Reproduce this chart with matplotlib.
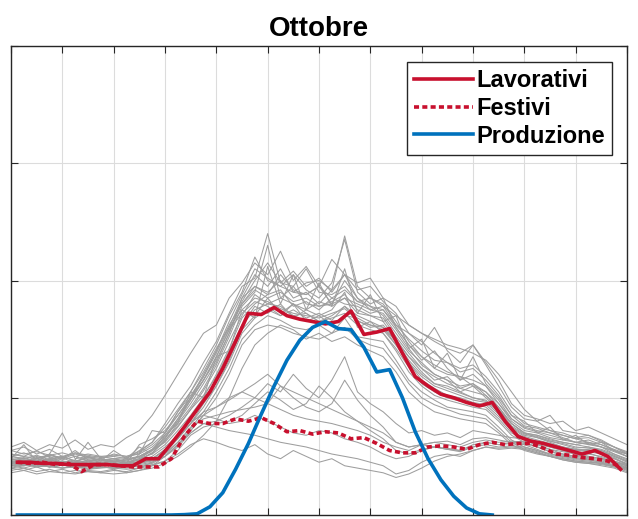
import numpy as np
import matplotlib
matplotlib.use('Agg')
from matplotlib import pyplot as plt

plt.rcParams['font.family'] = ['Liberation Sans', 'DejaVu Sans']

# hours of the day for the half-hour averages and for the single days
hours_mean = np.arange(0.25, 24, 0.5)
hours_day = np.arange(0, 24.01, 0.5)

lavorativi = [0.45, 0.45, 0.44, 0.44, 0.43, 0.43, 0.43, 0.43, 0.42, 0.42, 0.48, 0.48,
              0.61, 0.75, 0.90, 1.05, 1.25, 1.48, 1.72, 1.71, 1.77, 1.70, 1.67, 1.65,
              1.63, 1.65, 1.74, 1.54, 1.56, 1.59, 1.38, 1.18, 1.10, 1.03, 1.00, 0.96,
              0.93, 0.96, 0.80, 0.67, 0.63, 0.61, 0.58, 0.55, 0.52, 0.55, 0.50, 0.39]

festivi = [0.45, 0.44, 0.45, 0.43, 0.44, 0.37, 0.43, 0.43, 0.42, 0.41, 0.41, 0.41,
           0.48, 0.67, 0.80, 0.78, 0.78, 0.82, 0.80, 0.83, 0.78, 0.71, 0.72, 0.69,
           0.71, 0.70, 0.65, 0.66, 0.61, 0.55, 0.53, 0.53, 0.58, 0.59, 0.58, 0.56,
           0.60, 0.62, 0.60, 0.61, 0.61, 0.57, 0.52, 0.51, 0.49, 0.48, 0.46, 0.41]

nan = np.nan
produzione = [0, 0, 0, 0, 0, 0, 0, 0, 0, 0, 0, 0,
              0, 0.003, 0.01, 0.07, 0.19, 0.39, 0.61, 0.86, 1.10, 1.32, 1.49, 1.60,
              1.65, 1.59, 1.58, 1.43, 1.22, 1.24, 1.00, 0.71, 0.48, 0.30, 0.16, 0.06,
              0.01, 0.0, nan, nan, nan, nan, nan, nan, nan, nan, nan, nan]

# single working days
giorni_lav = [
    [0.52,0.50,0.55,0.49,0.47,0.50,0.46,0.48,0.45,0.47,0.50,0.56,0.66,0.80,0.95,1.12,1.30,1.55,1.85,2.05,1.95,2.10,1.90,1.88,1.95,1.80,2.00,1.85,1.78,1.70,1.55,1.40,1.30,1.20,1.15,1.05,1.10,1.00,0.90,0.78,0.70,0.68,0.64,0.62,0.60,0.58,0.56,0.52,0.48],
    [0.42,0.44,0.41,0.43,0.40,0.42,0.39,0.41,0.40,0.42,0.44,0.48,0.55,0.65,0.78,0.92,1.10,1.32,1.58,1.70,1.85,1.72,1.80,1.65,1.70,1.75,1.90,1.60,1.65,1.55,1.40,1.22,1.10,1.02,0.98,0.95,0.92,0.90,0.80,0.68,0.62,0.58,0.56,0.52,0.50,0.53,0.49,0.45,0.40],
    [0.55,0.58,0.52,0.56,0.50,0.53,0.51,0.49,0.50,0.48,0.55,0.62,0.75,0.90,1.05,1.25,1.45,1.70,1.90,2.20,2.00,1.95,2.05,1.92,1.85,1.98,2.35,1.90,1.80,1.85,1.60,1.45,1.35,1.25,1.20,1.18,1.10,1.05,0.95,0.82,0.75,0.72,0.70,0.66,0.62,0.64,0.60,0.55,0.50],
    [0.38,0.40,0.37,0.39,0.36,0.38,0.37,0.36,0.38,0.37,0.40,0.45,0.52,0.62,0.74,0.88,1.05,1.25,1.50,1.62,1.70,1.66,1.60,1.58,1.62,1.55,1.68,1.52,1.50,1.48,1.32,1.15,1.05,0.98,0.92,0.90,0.88,0.85,0.75,0.64,0.58,0.55,0.52,0.50,0.48,0.47,0.45,0.42,0.38],
    [0.48,0.45,0.50,0.46,0.49,0.44,0.47,0.45,0.46,0.44,0.47,0.53,0.63,0.78,0.92,1.08,1.28,1.52,1.78,1.90,2.30,1.85,1.80,1.75,1.82,1.78,1.85,1.72,1.70,1.65,1.50,1.35,1.22,1.12,1.10,1.05,1.00,0.98,0.88,0.75,0.68,0.66,0.62,0.58,0.56,0.55,0.54,0.50,0.45],
    [0.45,0.47,0.44,0.46,0.43,0.45,0.44,0.43,0.42,0.44,0.60,0.65,0.72,0.85,1.00,1.15,1.35,1.58,1.72,1.82,1.78,1.70,1.75,1.68,1.72,1.66,1.78,1.65,1.62,1.58,1.45,1.30,1.18,1.10,1.06,1.02,0.98,0.96,0.86,0.72,0.66,0.63,0.60,0.58,0.55,0.56,0.52,0.48,0.44],
    [0.50,0.48,0.46,0.52,0.48,0.55,0.47,0.46,0.48,0.45,0.48,0.52,0.60,0.72,0.85,1.00,1.20,1.42,1.68,1.80,1.88,1.92,1.78,1.82,1.75,1.85,1.80,1.78,1.72,1.75,1.60,1.45,1.32,1.40,1.25,1.15,1.20,1.10,0.95,0.80,0.72,0.70,0.66,0.64,0.62,0.60,0.58,0.54,0.50],
    [0.40,0.42,0.45,0.41,0.43,0.40,0.42,0.44,0.41,0.43,0.46,0.50,0.58,0.68,0.82,0.98,1.15,1.38,1.62,1.75,1.80,1.78,1.70,1.72,1.65,1.68,1.72,1.62,1.58,1.55,1.42,1.26,1.12,1.05,1.00,0.97,0.95,0.92,0.82,0.70,0.64,0.60,0.58,0.55,0.53,0.52,0.50,0.46,0.42],
    [0.46,0.44,0.48,0.50,0.45,0.47,0.62,0.48,0.46,0.47,0.49,0.55,0.65,0.82,1.00,1.20,1.40,1.62,1.80,1.95,1.90,2.00,1.85,1.90,1.80,1.92,2.05,1.85,1.75,1.72,1.58,1.42,1.28,1.20,1.15,1.10,1.12,1.02,0.92,0.78,0.70,0.68,0.65,0.62,0.60,0.62,0.58,0.52,0.47],
    [0.44,0.43,0.42,0.44,0.42,0.43,0.41,0.42,0.43,0.41,0.52,0.72,0.70,0.88,1.02,1.18,1.38,1.60,1.75,1.85,1.82,1.76,1.72,1.70,1.68,1.72,1.76,1.66,1.60,1.62,1.48,1.32,1.20,1.12,1.08,1.04,1.00,0.97,0.88,0.74,0.67,0.64,0.61,0.58,0.56,0.55,0.53,0.49,0.43],
    [0.55,0.52,0.54,0.51,0.53,0.50,0.52,0.50,0.51,0.50,0.52,0.58,0.68,0.82,0.98,1.15,1.32,1.55,1.82,2.00,2.15,1.98,1.95,2.10,1.90,1.88,1.95,1.82,1.85,1.78,1.62,1.50,1.40,1.32,1.30,1.22,1.25,1.15,1.02,0.85,0.76,0.74,0.70,0.68,0.65,0.66,0.62,0.58,0.54],
    [0.36,0.38,0.35,0.37,0.36,0.35,0.37,0.36,0.35,0.36,0.38,0.42,0.50,0.60,0.72,0.85,1.00,1.20,1.45,1.58,1.62,1.60,1.55,1.52,1.50,1.55,1.60,1.50,1.45,1.42,1.28,1.12,1.00,0.94,0.90,0.86,0.84,0.82,0.72,0.62,0.56,0.53,0.50,0.48,0.46,0.45,0.44,0.41,0.37],
    [0.47,0.49,0.46,0.48,0.50,0.46,0.48,0.47,0.45,0.48,0.50,0.55,0.62,0.75,0.90,1.06,1.25,1.48,1.70,1.88,1.80,1.85,1.95,1.80,1.78,1.82,1.88,1.75,1.70,1.68,1.52,1.38,1.25,1.18,1.12,1.08,1.05,1.02,0.90,0.76,0.69,0.67,0.63,0.61,0.58,0.57,0.55,0.51,0.46],
    [0.50,0.53,0.49,0.51,0.48,0.52,0.49,0.50,0.48,0.49,0.53,0.60,0.70,0.85,1.00,1.18,1.40,1.65,1.88,2.10,2.02,1.95,1.90,1.98,2.00,1.92,2.38,1.95,1.85,1.80,1.65,1.48,1.35,1.28,1.22,1.18,1.15,1.10,0.98,0.82,0.74,0.71,0.68,0.65,0.62,0.61,0.58,0.55,0.50],
    [0.58,0.62,0.55,0.60,0.57,0.64,0.56,0.60,0.58,0.66,0.72,0.85,1.02,1.20,1.38,1.55,1.62,1.85,1.98,2.15,2.05,2.25,2.00,2.12,1.95,2.18,2.05,1.98,2.02,1.85,1.78,1.62,1.55,1.48,1.42,1.38,1.45,1.30,1.15,0.95,0.85,0.82,0.78,0.80,0.72,0.75,0.70,0.65,0.60],
    [0.40,0.38,0.41,0.37,0.39,0.36,0.38,0.37,0.39,0.36,0.38,0.40,0.44,0.50,0.58,0.68,0.80,1.00,1.25,1.45,1.55,1.62,1.58,1.50,1.55,1.48,1.52,1.45,1.40,1.35,1.22,1.05,0.95,0.88,0.85,0.82,0.80,0.78,0.70,0.60,0.55,0.52,0.50,0.47,0.45,0.44,0.42,0.40,0.36],
    [0.48,0.60,0.45,0.52,0.70,0.48,0.50,0.46,0.55,0.48,0.58,0.52,0.68,0.78,1.05,1.00,1.35,1.40,1.75,1.68,2.12,1.80,2.05,1.75,1.98,1.78,2.10,1.72,1.88,1.65,1.70,1.42,1.50,1.25,1.38,1.15,1.35,1.12,1.00,0.85,0.80,0.70,0.75,0.64,0.68,0.60,0.62,0.55,0.52],
    [0.50,0.48,0.51,0.47,0.50,0.46,0.49,0.47,0.48,0.46,0.50,0.56,0.66,0.80,0.98,1.15,1.35,1.58,1.80,1.92,1.85,1.90,1.82,1.85,1.78,1.80,1.85,1.80,1.75,1.78,1.70,1.62,1.55,1.50,1.45,1.42,1.38,1.32,1.20,1.05,0.90,0.80,0.72,0.68,0.65,0.62,0.60,0.56,0.52],
    [0.44,0.46,0.43,0.47,0.45,0.42,0.46,0.44,0.43,0.45,0.47,0.53,0.64,0.76,0.90,1.02,1.18,1.40,1.62,1.78,1.72,1.80,1.68,1.75,1.70,1.62,1.70,1.68,1.62,1.60,1.48,1.35,1.25,1.15,1.18,1.08,1.12,1.05,0.92,0.78,0.70,0.66,0.63,0.60,0.57,0.58,0.55,0.50,0.46],
    [0.52,0.50,0.48,0.51,0.49,0.53,0.50,0.48,0.52,0.50,0.54,0.62,0.78,0.95,1.10,1.30,1.48,1.72,1.95,2.02,2.40,1.98,2.08,1.95,2.02,1.90,2.05,1.92,1.95,1.82,1.72,1.55,1.48,1.38,1.30,1.25,1.28,1.18,1.05,0.88,0.78,0.75,0.72,0.70,0.66,0.68,0.63,0.58,0.53],
    [0.42,0.40,0.43,0.41,0.44,0.40,0.42,0.41,0.40,0.42,0.45,0.48,0.56,0.66,0.78,0.95,1.10,1.30,1.55,1.68,1.75,1.70,1.80,1.72,1.65,1.70,1.78,1.70,1.65,1.60,1.45,1.30,1.15,1.08,1.02,1.00,0.96,0.94,0.84,0.72,0.65,0.62,0.60,0.57,0.55,0.54,0.52,0.48,0.43],
    [0.46,0.45,0.48,0.44,0.46,0.45,0.50,0.44,0.47,0.45,0.48,0.55,0.70,0.88,1.05,1.22,1.42,1.60,1.85,1.95,1.88,2.05,1.92,1.88,1.95,1.85,1.92,1.82,1.78,1.75,1.62,1.55,1.45,1.60,1.40,1.30,1.45,1.28,1.10,0.92,0.82,0.80,0.85,0.72,0.70,0.68,0.64,0.58,0.52],
]

# single holidays
giorni_fest = [
    [0.46,0.45,0.47,0.44,0.46,0.43,0.45,0.44,0.43,0.44,0.45,0.47,0.52,0.62,0.75,0.82,0.85,0.88,0.90,0.92,0.95,0.90,0.85,0.82,0.80,0.78,0.75,0.72,0.68,0.62,0.58,0.55,0.60,0.62,0.63,0.60,0.65,0.66,0.64,0.62,0.63,0.60,0.56,0.54,0.52,0.50,0.48,0.46,0.43],
    [0.44,0.42,0.43,0.41,0.40,0.42,0.40,0.41,0.40,0.39,0.40,0.42,0.46,0.55,0.68,0.75,0.78,0.80,0.85,0.95,1.05,0.98,0.90,0.95,1.10,1.00,0.88,0.80,0.72,0.65,0.55,0.52,0.56,0.58,0.57,0.55,0.60,0.62,0.60,0.61,0.60,0.56,0.52,0.50,0.48,0.47,0.45,0.43,0.40],
    [0.48,0.47,0.46,0.48,0.45,0.46,0.44,0.45,0.46,0.44,0.45,0.48,0.55,0.68,0.80,0.85,0.82,0.78,0.80,0.85,0.80,0.75,0.70,0.68,0.72,0.70,0.65,0.62,0.58,0.52,0.48,0.50,0.55,0.58,0.56,0.54,0.58,0.62,0.60,0.62,0.61,0.58,0.54,0.52,0.50,0.49,0.47,0.45,0.42],
    [0.42,0.43,0.41,0.42,0.40,0.41,0.39,0.40,0.41,0.40,0.42,0.44,0.50,0.60,0.70,0.78,0.80,0.85,0.92,1.00,0.95,1.10,1.00,0.92,0.88,0.95,1.15,0.98,0.85,0.75,0.62,0.58,0.60,0.62,0.60,0.58,0.62,0.64,0.62,0.63,0.62,0.58,0.54,0.51,0.49,0.48,0.46,0.44,0.41],
    [0.45,0.44,0.46,0.43,0.45,0.44,0.43,0.42,0.44,0.43,0.44,0.46,0.50,0.58,0.70,0.78,0.75,0.72,0.70,0.68,0.65,0.62,0.60,0.58,0.55,0.52,0.50,0.48,0.45,0.42,0.35,0.38,0.45,0.50,0.52,0.50,0.55,0.58,0.57,0.58,0.57,0.54,0.50,0.48,0.46,0.45,0.44,0.42,0.40],
    [0.47,0.46,0.45,0.47,0.44,0.45,0.46,0.44,0.45,0.43,0.44,0.47,0.53,0.65,0.78,0.88,0.92,1.00,1.05,1.12,1.20,1.10,1.05,1.00,0.95,0.90,0.85,0.80,0.75,0.70,0.62,0.58,0.60,0.58,0.56,0.55,0.58,0.60,0.58,0.59,0.58,0.55,0.51,0.49,0.47,0.46,0.44,0.42,0.39],
    [0.44,0.46,0.43,0.45,0.42,0.44,0.43,0.45,0.42,0.44,0.43,0.45,0.50,0.60,0.72,0.85,0.92,0.98,1.05,1.00,1.12,1.05,1.20,1.08,1.00,1.15,1.35,1.05,0.95,0.88,0.78,0.70,0.72,0.68,0.70,0.66,0.72,0.70,0.68,0.66,0.65,0.62,0.58,0.55,0.52,0.50,0.48,0.45,0.42],
    [0.43,0.42,0.44,0.41,0.43,0.40,0.42,0.41,0.40,0.42,0.41,0.43,0.46,0.52,0.60,0.65,0.62,0.58,0.55,0.60,0.52,0.48,0.55,0.50,0.45,0.48,0.42,0.40,0.38,0.36,0.32,0.35,0.40,0.46,0.50,0.52,0.55,0.58,0.56,0.57,0.56,0.53,0.50,0.47,0.45,0.44,0.43,0.41,0.39],
]

fig = plt.figure(figsize=(6.38, 5.19), dpi=100)
ax = fig.add_axes([11 / 638, 4 / 519, 616 / 638, 469 / 519])

for g in giorni_lav + giorni_fest:
    ax.plot(hours_day, g, color='#9e9e9e', linewidth=0.75)

ax.plot(hours_mean, lavorativi, color='#c8102e', linewidth=2.6, label='Lavorativi')
ax.plot(hours_mean, festivi, color='#c8102e', linewidth=2.6, dashes=(1.4, 0.9), label='Festivi')
ax.plot(hours_mean, produzione, color='#0072bd', linewidth=2.6, label='Produzione')

ax.set_xlim(0, 24)
ax.set_ylim(0, 4)
ax.set_xticks(np.arange(0, 25, 2))
ax.set_yticks(np.arange(0, 5, 1))
ax.tick_params(direction='in', length=5, top=True, right=True,
               labelbottom=False, labelleft=False, color='#262626')
ax.grid(True, color='#dcdcdc', linewidth=0.8)
for s in ax.spines.values():
    s.set_color('#262626')
    s.set_linewidth(1.0)

ax.set_title('Ottobre', fontsize=20, fontweight='bold', pad=7)

leg = ax.legend(loc='upper right', bbox_to_anchor=(1 - 15 / 616, 1 - 16 / 469),
                borderaxespad=0, fancybox=False, framealpha=1, edgecolor='#262626',
                prop={'size': 17, 'weight': 'bold'}, handlelength=2.5,
                handletextpad=0.15, borderpad=0.3, labelspacing=0.2)
leg.get_frame().set_linewidth(1.0)

fig.savefig('out.png', dpi=100)
